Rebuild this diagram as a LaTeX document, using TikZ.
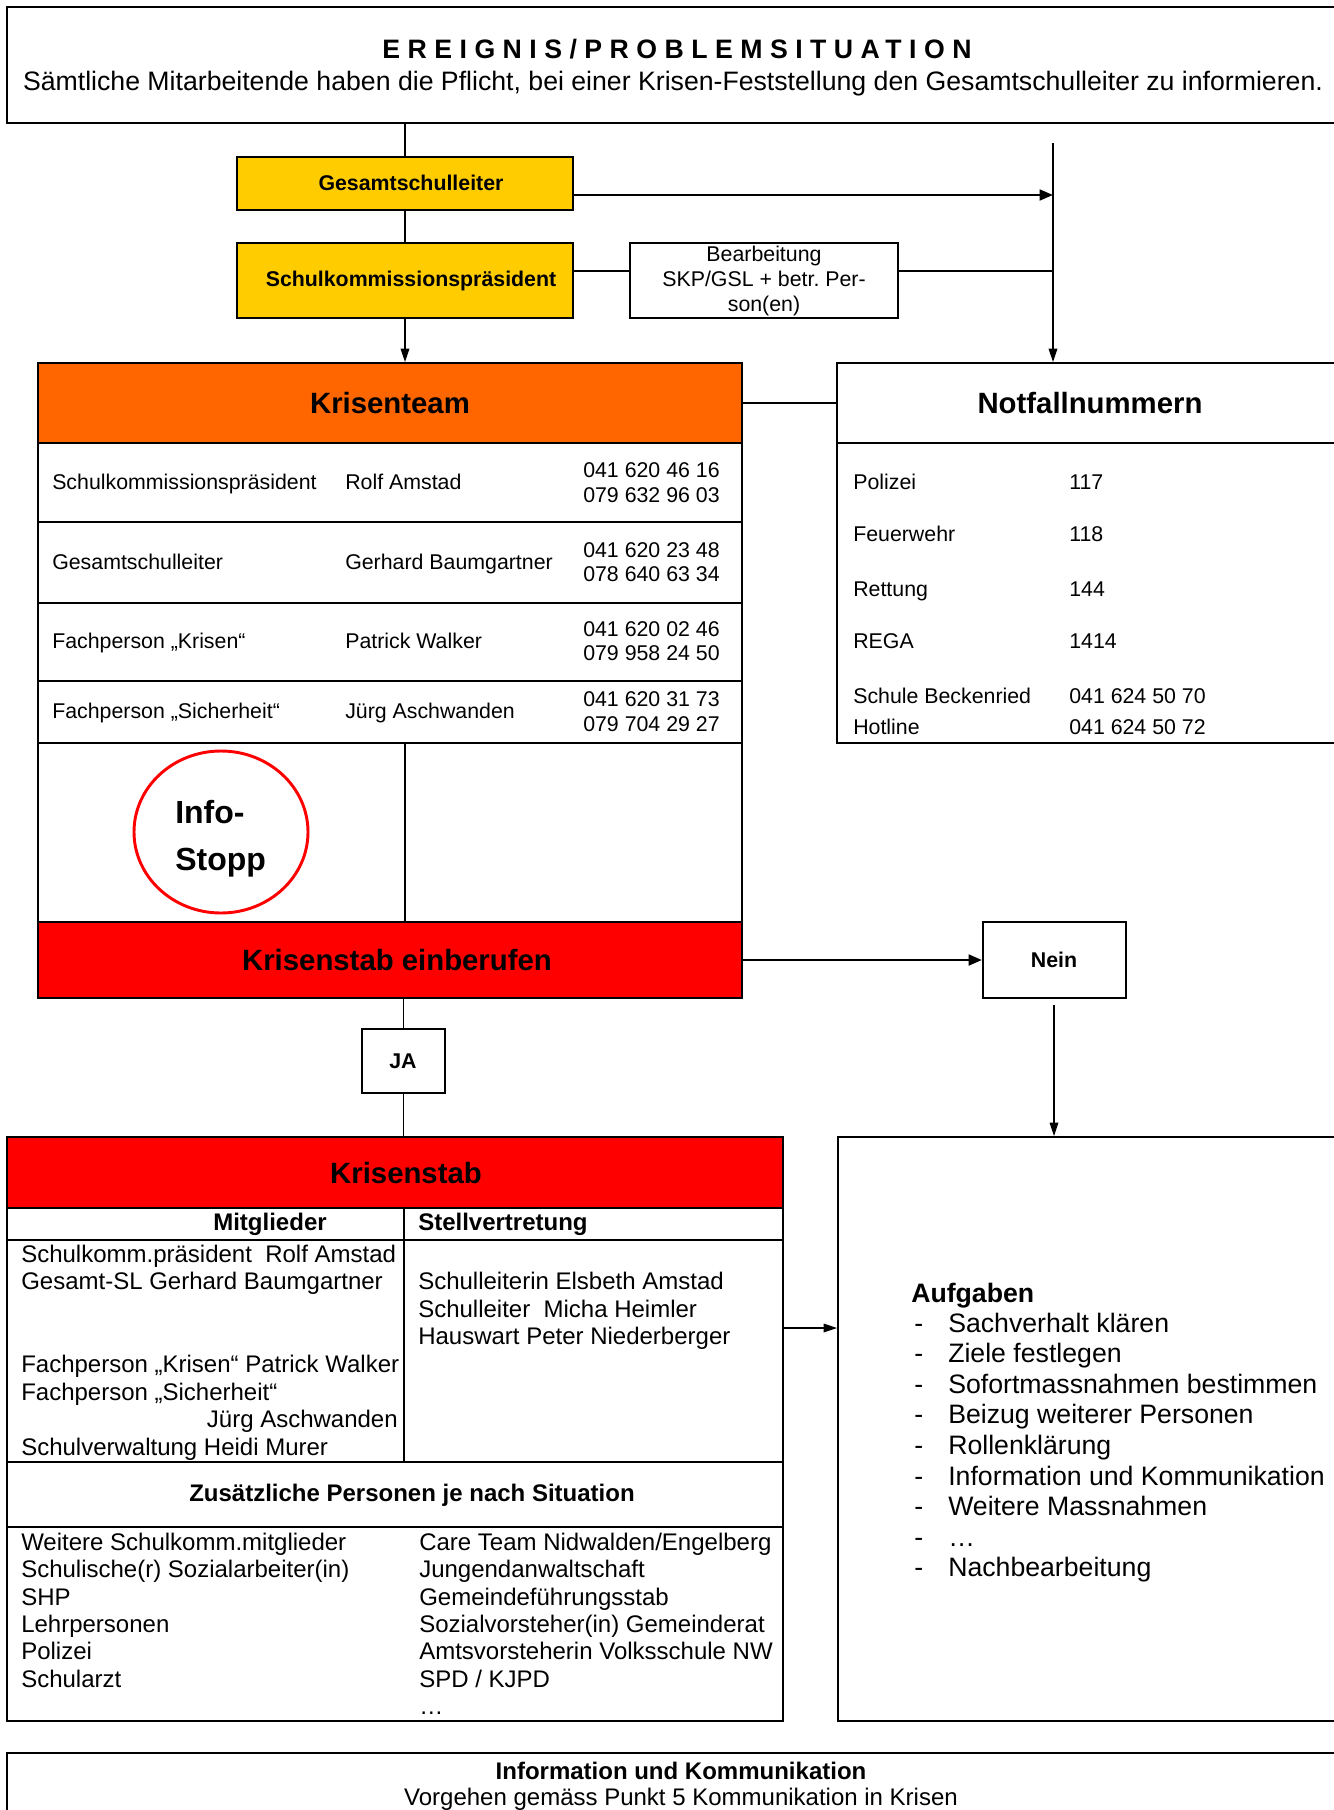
\documentclass[tikz,border=0pt]{standalone}
\usepackage{fontspec}
\setmainfont{Liberation Sans}
\newfontfamily\spacedfont[LetterSpace=28]{Liberation Sans}
\usetikzlibrary{fit,arrows.meta,shapes.geometric}
\definecolor{gold}{HTML}{FFCC00}
\definecolor{orng}{HTML}{FF6600}
\definecolor{rd}{HTML}{FF0000}
\begin{document}
\begin{tikzpicture}[x=0.75pt,y=-0.75pt,
  box/.style={draw,line width=1.5pt,inner sep=0pt},
  conn/.style={line width=0.8pt},
  arr/.style={line width=0.9pt,-{Triangle[length=10pt,width=6.5pt]}},
  bigarr/.style={line width=2pt,-{Triangle[length=10pt,width=8pt]}},
  f16/.style={inner sep=0pt,font=\fontsize{16}{19}\selectfont},
  f16b/.style={inner sep=0pt,font=\bfseries\fontsize{16}{19}\selectfont},
  f18/.style={inner sep=0pt,font=\fontsize{18}{20.6}\selectfont},
  f18b/.style={inner sep=0pt,font=\bfseries\fontsize{18}{20.6}\selectfont},
  f20/.style={inner sep=0pt,font=\fontsize{20}{23}\selectfont},
  f20b/.style={inner sep=0pt,font=\bfseries\fontsize{20}{23}\selectfont},
  f22b/.style={inner sep=0pt,font=\bfseries\fontsize{22}{26}\selectfont},
]
\clip (0,0) rectangle (1334,1810);
\fill[white] (0,0) rectangle (1334,1810);

% top box
\node[box,fit={(7,7)(1345,123)}] (top) {};
\node[inner sep=0pt,anchor=base,font=\spacedfont\bfseries\fontsize{20}{24}\selectfont] (title) at (677,58.5) {EREIGNIS/PROBLEMSITUATION};
\node[f20,anchor=base] (sub) at (673,90) {Sämtliche Mitarbeitende haben die Pflicht, bei einer Krisen-Feststellung den Gesamtschulleiter zu informieren.};

% gold boxes
\node[box,fill=gold,fit={(237,157)(573,210)}] (gsl) {};
\node[f16b] (gsltxt) at (411,183) {Gesamtschulleiter};
\node[box,fill=gold,fit={(237,243)(573,318)}] (skp) {};
\node[f16b] (skptxt) at (411,281) {Schulkommissionspräsident};
\node[box,fit={(630,243)(898,318)}] (bear) {};
\node[inner sep=0pt,align=center,font=\fontsize{16}{18.4}\selectfont] (beartxt) at (764,281) {Bearbeitung\\SKP/GSL + betr.\ Per-\\son(en)};

% Krisenteam
\node[box,fill=orng,fit={(38,363)(742,443)}] (kt) {};
\node[f22b] (kttitle) at (390,403) {Krisenteam};
\node[box,fit={(38,443)(742,522)}] (r1) {};
\node[box,fit={(38,522)(742,603)}] (r2) {};
\node[box,fit={(38,603)(742,681)}] (r3) {};
\node[box,fit={(38,681)(742,743)}] (r4) {};
\node[box,line width=1pt,fit={(38,743)(742,922)}] (lower) {};
\node[box,fill=rd,fit={(38,922)(742,998)}] (ke) {};
\node[f22b] (ketitle) at (397,960) {Krisenstab einberufen};

\node[f16,anchor=base west] (r1a) at (52,489) {Schulkommissionspräsident};
\node[f16,anchor=base west] (r1b) at (345,489) {Rolf Amstad};
\node[f16,anchor=base west] (r1c) at (583,477) {041 620 46 16};
\node[f16,anchor=base west] (r1d) at (583,502) {079 632 96 03};
\node[f16,anchor=base west] (r2a) at (52,569) {Gesamtschulleiter};
\node[f16,anchor=base west] (r2b) at (345,569) {Gerhard Baumgartner};
\node[f16,anchor=base west] (r2c) at (583,557) {041 620 23 48};
\node[f16,anchor=base west] (r2d) at (583,581) {078 640 63 34};
\node[f16,anchor=base west] (r3a) at (52,648) {Fachperson „Krisen“};
\node[f16,anchor=base west] (r3b) at (345,648) {Patrick Walker};
\node[f16,anchor=base west] (r3c) at (583,636) {041 620 02 46};
\node[f16,anchor=base west] (r3d) at (583,660) {079 958 24 50};
\node[f16,anchor=base west] (r4a) at (52,718) {Fachperson „Sicherheit“};
\node[f16,anchor=base west] (r4b) at (345,718) {Jürg Aschwanden};
\node[f16,anchor=base west] (r4c) at (583,706) {041 620 31 73};
\node[f16,anchor=base west] (r4d) at (583,731) {079 704 29 27};

\draw[conn] (skp.south |- lower.north) -- (skp.south |- lower.south);
\node[ellipse,draw=rd,line width=2.2pt,minimum width=130.5pt,minimum height=121.5pt,inner sep=0pt] (info) at (221,832) {};
\node[inner sep=0pt,anchor=west,align=left,font=\bfseries\fontsize{24}{35}\selectfont] (infotxt) at (175,839) {Info-\\Stopp};

% Notfallnummern
\node[box,fit={(837,363)(1345,443)}] (nf) {};
\node[f22b] (nftitle) at (1090,403) {Notfallnummern};
\node[box,fit={(837,443)(1345,743)}] (nfbody) {};
\node[f16,anchor=base west] (n1a) at (853,489) {Polizei};
\node[f16,anchor=base west] (n1b) at (1069,489) {117};
\node[f16,anchor=base west] (n2a) at (853,541) {Feuerwehr};
\node[f16,anchor=base west] (n2b) at (1069,541) {118};
\node[f16,anchor=base west] (n3a) at (853,596) {Rettung};
\node[f16,anchor=base west] (n3b) at (1069,596) {144};
\node[f16,anchor=base west] (n4a) at (853,648) {REGA};
\node[f16,anchor=base west] (n4b) at (1069,648) {1414};
\node[f16,anchor=base west] (n5a) at (853,703) {Schule Beckenried};
\node[f16,anchor=base west] (n5b) at (1069,703) {041 624 50 70};
\node[f16,anchor=base west] (n6a) at (853,734) {Hotline};
\node[f16,anchor=base west] (n6b) at (1069,734) {041 624 50 72};

% Nein / JA
\node[box,fit={(983,922)(1126,998)}] (nein) {};
\node[f16b] (neintxt) at (1054,960) {Nein};
\node[box,fit={(362,1029)(445,1093)}] (ja) {};
\node[f16b] (jatxt) at (403,1061) {JA};

% Krisenstab
\node[box,fill=rd,fit={(7,1137)(783,1208)}] (ks) {};
\node[f22b] (kstitle) at (406,1173) {Krisenstab};
\node[box,fit={(7,1208)(783,1240)}] (ksh) {};
\node[box,fit={(7,1240)(783,1462)}] (ksb) {};
\node[box,fit={(7,1462)(783,1527)}] (ksz) {};
\node[box,fit={(7,1527)(783,1721)}] (ksw) {};
\draw[line width=1.5pt] (404,1208) coordinate (dv1) -- (dv1 |- ksb.south);
\node[f18b,anchor=base] (mitg) at (270,1230) {Mitglieder};
\node[f18b,anchor=base west] (stellv) at (418,1230) {Stellvertretung};
\node[f18,anchor=base west] (m1) at (21,1262) {Schulkomm.präsident\ \ Rolf Amstad};
\node[f18,anchor=base west] (m2) at (21,1289) {Gesamt-SL Gerhard Baumgartner};
\node[f18,anchor=base west] (m3) at (21,1372) {Fachperson „Krisen“ Patrick Walker};
\node[f18,anchor=base west] (m4) at (21,1400) {Fachperson „Sicherheit“};
\node[f18,anchor=base east] (m5) at (398,1427) {Jürg Aschwanden};
\node[f18,anchor=base west] (m6) at (21,1455) {Schulverwaltung Heidi Murer};
\node[f18,anchor=base west] (s1) at (418,1289) {Schulleiterin Elsbeth Amstad};
\node[f18,anchor=base west] (s2) at (418,1317) {Schulleiter\ \ Micha Heimler};
\node[f18,anchor=base west] (s3) at (418,1344) {Hauswart Peter Niederberger};
\node[f18b,anchor=base] (zus) at (412,1501) {Zusätzliche Personen je nach Situation};
\node[f18,anchor=base west] (z1) at (21,1550) {Weitere Schulkomm.mitglieder};
\node[f18,anchor=base west] (z2) at (21,1577) {Schulische(r) Sozialarbeiter(in)};
\node[f18,anchor=base west] (z3) at (21,1605) {SHP};
\node[f18,anchor=base west] (z4) at (21,1632) {Lehrpersonen};
\node[f18,anchor=base west] (z5) at (21,1659) {Polizei};
\node[f18,anchor=base west] (z6) at (21,1687) {Schularzt};
\node[f18,anchor=base west] (y1) at (419,1550) {Care Team Nidwalden/Engelberg};
\node[f18,anchor=base west] (y2) at (419,1577) {Jungendanwaltschaft};
\node[f18,anchor=base west] (y3) at (419,1605) {Gemeindeführungsstab};
\node[f18,anchor=base west] (y4) at (419,1632) {Sozialvorsteher(in) Gemeinderat};
\node[f18,anchor=base west] (y5) at (419,1659) {Amtsvorsteherin Volksschule NW};
\node[f18,anchor=base west] (y6) at (419,1687) {SPD / KJPD};
\node[f18,anchor=base west] (y7) at (419,1714) {…};

% Aufgaben
\node[box,fit={(838,1137)(1345,1721)}] (auf) {};
\node[f20b,anchor=base west] (aufh) at (911,1302) {Aufgaben};
\foreach \t [count=\i] in {Sachverhalt klären,Ziele festlegen,Sofortmassnahmen bestimmen,Beizug weiterer Personen,Rollenklärung,Information und Kommunikation,Weitere Massnahmen,…,Nachbearbeitung}{
  \node[f20,anchor=base west] (ad\i) at (914,{1332+30.6*(\i-1)}) {-};
  \node[f20,anchor=base west] (ai\i) at (948,{1332+30.6*(\i-1)}) {\t};
}

% bottom box
\node[box,fit={(7,1753)(1345,1830)}] (bot) {};
\node[f18b,anchor=base] (both) at (681,1779) {Information und Kommunikation};
\node[f18,anchor=base] (bott) at (681,1805) {Vorgehen gemäss Punkt 5 Kommunikation in Krisen};

% connectors
\coordinate (vtop) at (1053,143);
\coordinate (neinb) at (1054,1005);
\coordinate (garr) at (573,195);
\coordinate (sline) at (573,271);
\draw[conn] (gsl.north |- top.south) -- (gsl.north);
\draw[conn] (gsl.south) -- (skp.north);
\draw[arr] (skp.south) -- (skp.south |- kt.north);
\draw[bigarr] (garr) -- (vtop |- garr);
\draw[line width=1.5pt] (sline) -- (bear.west |- sline);
\draw[line width=1.5pt] (bear.east |- sline) -- (vtop |- sline);
\draw[arr] (vtop) -- (vtop |- nf.north);
\draw[line width=1.2pt] (kt.east) -- (kt.east -| nf.west);
\draw[bigarr] (ke.east) -- (nein.west);
\draw[arr] (neinb) -- (neinb |- auf.north);
\draw[conn] (ja.north |- ke.south) -- (ja.north);
\draw[conn] (ja.south) -- (ja.south |- ks.north);
\draw[arr] (ks.east |- 0,1328) -- (auf.west |- 0,1328);
\end{tikzpicture}
\end{document}
